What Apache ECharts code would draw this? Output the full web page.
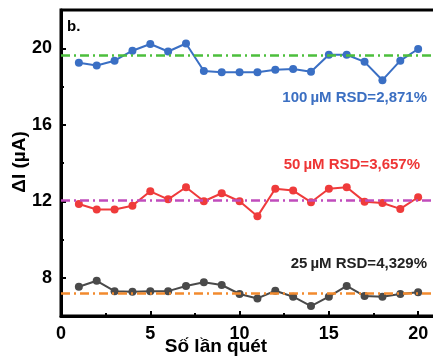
<!DOCTYPE html>
<html>
<head>
<meta charset="utf-8">
<script src="https://cdn.jsdelivr.net/npm/echarts@6/dist/echarts.min.js"></script>
<style>
  html, body { margin: 0; padding: 0; background: #fff; }
  #chart { width: 433px; height: 360px; }
</style>
</head>
<body>
<div id="chart"></div>
<script>
// Scan number on the x axis
const scans = [1, 2, 3, 4, 5, 6, 7, 8, 9, 10, 11, 12, 13, 14, 15, 16, 17, 18, 19, 20];

// Peak current change (µA) per scan for each concentration
const i100 = [19.24, 19.10, 19.35, 19.87, 20.22, 19.83, 20.25, 18.81, 18.74, 18.74,
              18.74, 18.87, 18.91, 18.77, 19.66, 19.66, 19.29, 18.33, 19.35, 19.96];
const i50 = [11.86, 11.57, 11.57, 11.77, 12.52, 12.10, 12.73, 12.00, 12.42, 12.00,
             11.21, 12.65, 12.56, 11.95, 12.65, 12.73, 11.98, 11.91, 11.60, 12.21];
const i25 = [7.53, 7.84, 7.30, 7.27, 7.30, 7.30, 7.57, 7.77, 7.62, 7.15,
             6.92, 7.32, 7.01, 6.52, 7.01, 7.57, 7.04, 7.01, 7.15, 7.24];

// Mean levels drawn as dash-dot reference lines
const mean100 = 19.66;
const mean50 = 12.07;
const mean25 = 7.18;

// Tick positions
const xMajor = [0, 5, 10, 15, 20];
const xMinor = [2.5, 7.5, 12.5, 17.5];
const yMajor = [8, 12, 16, 20];
const yMinor = [10, 14, 18];

const labels = [
  { text: '100\u2009\u00b5M RSD=2,871%', color: '#3b6fc2' },
  { text: '50\u2009\u00b5M RSD=3,657%', color: '#ee3535' },
  { text: '25\u2009\u00b5M RSD=4,329%', color: '#222222' }
];

const FONT = '"Liberation Sans", Arial, sans-serif';

const pairs = arr => scans.map((s, k) => [s, arr[k]]);

function meanLine(value, color) {
  return {
    silent: true,
    symbol: 'none',
    label: { show: false },
    lineStyle: { color: color, width: 2.5, type: [9, 4, 2, 4] },
    data: [{ yAxis: value }]
  };
}

function lineSeries(name, data, color, mean, meanColor) {
  return {
    name: name,
    type: 'line',
    data: pairs(data),
    symbol: 'circle',
    symbolSize: 8,
    itemStyle: { color: color },
    lineStyle: { color: color, width: 2 },
    markLine: meanLine(mean, meanColor),
    z: 3
  };
}

const chart = echarts.init(document.getElementById('chart'), null, { renderer: 'canvas' });

chart.setOption({
  animation: false,
  backgroundColor: '#ffffff',
  grid: {
    left: 61, right: -3, top: 10, bottom: 44,
    outerBoundsMode: 'none',
    containLabel: false,
    show: true, borderColor: '#000', borderWidth: 3, backgroundColor: 'transparent'
  },
  xAxis: [
    {
      type: 'value', min: 0, max: 21, interval: 5,
      axisLine: { show: true, onZero: false, lineStyle: { color: '#000', width: 3 } },
      axisTick: { show: true, inside: true, length: 5, lineStyle: { width: 2, color: '#000' }, customValues: xMajor },
      axisLabel: {
        customValues: xMajor, color: '#000', fontSize: 18, fontWeight: 'bold',
        fontFamily: FONT, margin: 9
      },
      splitLine: { show: false }
    },
    {
      type: 'value', min: 0, max: 21, position: 'bottom',
      axisLine: { show: false },
      axisTick: { show: true, inside: true, length: 3, lineStyle: { width: 2, color: '#000' }, customValues: xMinor },
      axisLabel: { show: false },
      splitLine: { show: false }
    }
  ],
  yAxis: [
    {
      type: 'value', min: 6, max: 22,
      axisLine: { show: true, onZero: false, lineStyle: { color: '#000', width: 3 } },
      axisTick: { show: true, inside: true, length: 5, lineStyle: { width: 2, color: '#000' }, customValues: yMajor },
      axisLabel: {
        customValues: yMajor, color: '#000', fontSize: 18, fontWeight: 'bold',
        fontFamily: FONT, margin: 9
      },
      splitLine: { show: false }
    },
    {
      type: 'value', min: 6, max: 22, position: 'left',
      axisLine: { show: false },
      axisTick: { show: true, inside: true, length: 3, lineStyle: { width: 2, color: '#000' }, customValues: yMinor },
      axisLabel: { show: false },
      splitLine: { show: false }
    }
  ],
  series: [
    lineSeries('100 µM', i100, '#3a6fc4', mean100, '#4cbf3c'),
    lineSeries('50 µM', i50, '#ef3b3b', mean50, '#c04cbc'),
    lineSeries('25 µM', i25, '#4a4a4a', mean25, '#f28a2e')
  ],
  graphic: [
    {
      type: 'text', left: 67, top: 19,
      style: { text: 'b.', fill: '#000', font: 'bold 15px ' + FONT }
    },
    {
      type: 'text', right: 6, top: 90,
      style: { text: labels[0].text, fill: labels[0].color, font: 'bold 15px ' + FONT }
    },
    {
      type: 'text', right: 13, top: 157,
      style: { text: labels[1].text, fill: labels[1].color, font: 'bold 15px ' + FONT }
    },
    {
      type: 'text', right: 6, top: 256,
      style: { text: labels[2].text, fill: labels[2].color, font: 'bold 15px ' + FONT }
    },
    {
      type: 'text', x: 216, y: 347,
      style: {
        text: 'Số lần quét', fill: '#000', font: 'bold 19px ' + FONT,
        align: 'center', verticalAlign: 'middle'
      }
    },
    {
      type: 'text', x: 20, y: 162, rotation: Math.PI / 2,
      style: {
        text: '\u0394I (\u00b5A)', fill: '#000', font: 'bold 19px ' + FONT,
        align: 'center', verticalAlign: 'middle'
      }
    }
  ]
});
</script>
</body>
</html>
